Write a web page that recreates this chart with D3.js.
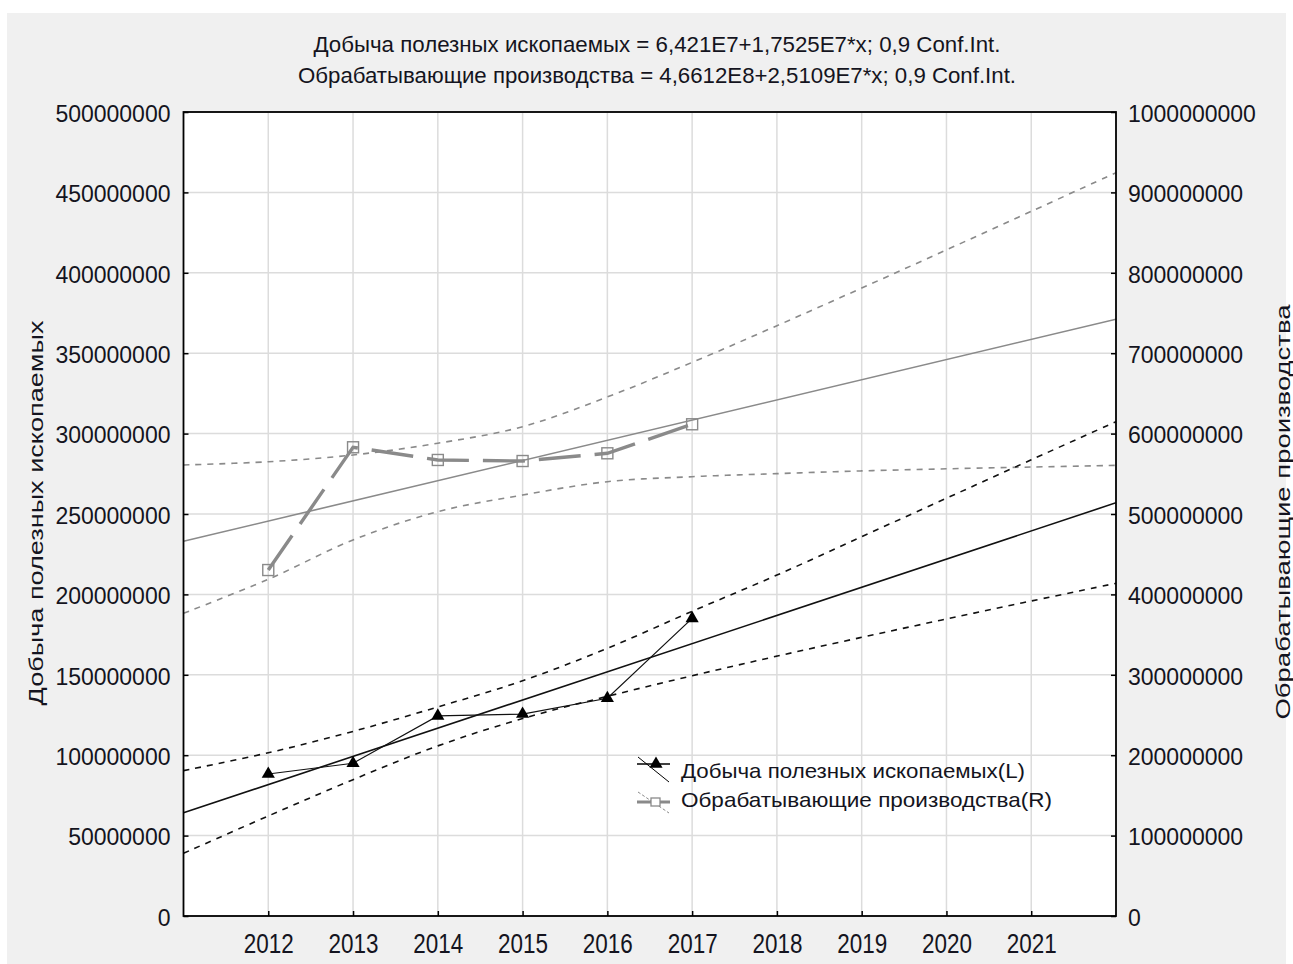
<!DOCTYPE html>
<html>
<head>
<meta charset="utf-8">
<script src="https://cdn.jsdelivr.net/npm/d3@7"></script>
<style>
  html, body { margin: 0; padding: 0; background: #ffffff; }
  svg { display: block; }
  text { font-family: "Liberation Sans", Arial, sans-serif; fill: #141420; }
</style>
</head>
<body>
<svg id="chart" width="1293" height="964"></svg>
<script>
// ---- data ----
const yearLabels = ["2012", "2013", "2014", "2015", "2016", "2017", "2018", "2019", "2020", "2021"];
const obsYears = [2012, 2013, 2014, 2015, 2016, 2017];
const mining = [88.3e6, 95.0e6, 124.4e6, 125.6e6, 135.4e6, 185.1e6];        // left axis
const manufacturing = [430.3e6, 583.0e6, 567.2e6, 565.9e6, 575.5e6, 611.6e6]; // right axis

// fitted lines y = a + b*x (x = 1 for 2012)
const miningFit = [6.421e7, 1.7525e7];
const manufFit = [4.6612e8, 2.5109e7];

// 0.9 confidence bands, sampled at x = 0..11
const bandX = [0, 1, 2, 3, 4, 5, 6, 7, 8, 9, 10, 11];
const miningUpper = [90.4e6, 101.5e6, 114.8e6, 130.0e6, 146.3e6, 166.5e6, 189.5e6, 212.0e6, 235.9e6, 259.8e6, 283.7e6, 307.4e6];
const miningLower = [39.0e6, 62.2e6, 84.8e6, 105.8e6, 122.8e6, 136.6e6, 149.4e6, 161.6e6, 173.3e6, 184.7e6, 195.9e6, 206.9e6];
const manufUpper = [561.0e6, 565.0e6, 573.4e6, 588.0e6, 608.6e6, 645.6e6, 688.6e6, 734.2e6, 781.0e6, 828.5e6, 876.4e6, 924.5e6];
const manufLower = [376.5e6, 418.8e6, 467.7e6, 502.9e6, 523.6e6, 540.2e6, 546.4e6, 550.2e6, 553.6e6, 556.2e6, 558.4e6, 560.5e6];

const leftTicks = d3.range(0, 500000001, 50000000);
const rightTicks = d3.range(0, 1000000001, 100000000);

const titleLines = [
  "Добыча полезных ископаемых = 6,421E7+1,7525E7*x; 0,9 Conf.Int.",
  "Обрабатывающие производства = 4,6612E8+2,5109E7*x; 0,9 Conf.Int."
];
const leftTitle = "Добыча полезных ископаемых";
const rightTitle = "Обрабатывающие производства";
const legendLabels = ["Добыча полезных ископаемых(L)", "Обрабатывающие производства(R)"];

// ---- layout ----
const svg = d3.select("#chart");
const plot = { left: 183.5, right: 1116, top: 112, bottom: 916 };

const x = d3.scaleLinear().domain([0, 11]).range([plot.left, plot.right]);
const yL = d3.scaleLinear().domain([0, 500000000]).range([plot.bottom, plot.top]);
const yR = d3.scaleLinear().domain([0, 1000000000]).range([plot.bottom, plot.top]);
const yearToX = yr => yr - 2011;

// panel and plot background
svg.append("rect").attr("x", 7).attr("y", 13).attr("width", 1279).attr("height", 951).attr("fill", "#f0f0f0");
svg.append("rect")
  .attr("x", plot.left).attr("y", plot.top)
  .attr("width", plot.right - plot.left).attr("height", plot.bottom - plot.top)
  .attr("fill", "#ffffff");

// grid
const grid = svg.append("g").attr("stroke", "#dcdcdc").attr("stroke-width", 1.5);
grid.selectAll("line.h").data(leftTicks).join("line")
  .attr("x1", plot.left).attr("x2", plot.right)
  .attr("y1", d => yL(d)).attr("y2", d => yL(d));
grid.selectAll("line.v").data(yearLabels).join("line")
  .attr("x1", (d, i) => x(i + 1)).attr("x2", (d, i) => x(i + 1))
  .attr("y1", plot.top).attr("y2", plot.bottom);

const band = d3.line().x(d => x(d[0])).y(d => d[1]).curve(d3.curveCatmullRom.alpha(0.5));
svg.append("clipPath").attr("id", "plotclip").append("rect")
  .attr("x", plot.left).attr("y", plot.top)
  .attr("width", plot.right - plot.left).attr("height", plot.bottom - plot.top);
const g = svg.append("g").attr("clip-path", "url(#plotclip)");

// manufacturing (right axis), grey
[manufUpper, manufLower].forEach(arr => {
  g.append("path")
    .attr("d", band(bandX.map((bx, i) => [bx, yR(arr[i])])))
    .attr("fill", "none").attr("stroke", "#8a8a8a").attr("stroke-width", 1.6)
    .attr("stroke-dasharray", "6,6");
});
g.append("line")
  .attr("x1", x(0)).attr("y1", yR(manufFit[0]))
  .attr("x2", x(11)).attr("y2", yR(manufFit[0] + manufFit[1] * 11))
  .attr("stroke", "#8a8a8a").attr("stroke-width", 1.6);

// mining (left axis), black
[miningUpper, miningLower].forEach(arr => {
  g.append("path")
    .attr("d", band(bandX.map((bx, i) => [bx, yL(arr[i])])))
    .attr("fill", "none").attr("stroke", "#111").attr("stroke-width", 1.6)
    .attr("stroke-dasharray", "6,6");
});
g.append("line")
  .attr("x1", x(0)).attr("y1", yL(miningFit[0]))
  .attr("x2", x(11)).attr("y2", yL(miningFit[0] + miningFit[1] * 11))
  .attr("stroke", "#111").attr("stroke-width", 1.6);

// observed series
const manufPts = obsYears.map((yr, i) => [x(yearToX(yr)), yR(manufacturing[i])]);
g.append("path").attr("d", d3.line()(manufPts))
  .attr("fill", "none").attr("stroke", "#8a8a8a").attr("stroke-width", 3.4)
  .attr("stroke-dasharray", "42,14");
g.selectAll("rect.sq").data(manufPts).join("rect")
  .attr("x", d => d[0] - 5.5).attr("y", d => d[1] - 5.5)
  .attr("width", 11).attr("height", 11)
  .attr("fill", "none").attr("stroke", "#8a8a8a").attr("stroke-width", 1.4);

const miningPts = obsYears.map((yr, i) => [x(yearToX(yr)), yL(mining[i])]);
g.append("path").attr("d", d3.line()(miningPts))
  .attr("fill", "none").attr("stroke", "#111").attr("stroke-width", 1.2);
const tri = d3.symbol().type(d3.symbolTriangle).size(75);
g.selectAll("path.tri").data(miningPts).join("path")
  .attr("transform", d => `translate(${d[0]},${d[1]})`)
  .attr("d", tri).attr("fill", "#000");

// axes
function styleAxis(sel) {
  sel.select(".domain").remove();
  sel.selectAll(".tick line").attr("stroke", "#000").attr("stroke-width", 1.5);
  sel.selectAll(".tick text").style("font-family", '"Liberation Sans", Arial, sans-serif').attr("fill", "#141420");
}
svg.append("g").attr("transform", `translate(${plot.left},0)`)
  .call(d3.axisLeft(yL).tickValues(leftTicks).tickFormat(d3.format("d")).tickSizeInner(-5).tickSizeOuter(0).tickPadding(13))
  .call(styleAxis)
  .selectAll(".tick text").style("font-size", "23px").attr("dy", "0.4em");

svg.append("g").attr("transform", `translate(${plot.right},0)`)
  .call(d3.axisRight(yR).tickValues(rightTicks).tickFormat(d3.format("d")).tickSizeInner(-5).tickSizeOuter(0).tickPadding(12))
  .call(styleAxis)
  .selectAll(".tick text").style("font-size", "23px").attr("dy", "0.4em");

const bottomAxis = svg.append("g").attr("transform", `translate(0,${plot.bottom})`)
  .call(d3.axisBottom(x).tickValues(d3.range(1, 11)).tickFormat((d, i) => yearLabels[i]).tickSizeInner(-5).tickSizeOuter(0).tickPadding(18))
  .call(styleAxis);
bottomAxis.selectAll(".tick text").style("font-size", "27px")
  .attr("textLength", 50).attr("lengthAdjust", "spacingAndGlyphs");

// frame
svg.append("rect")
  .attr("x", plot.left).attr("y", plot.top)
  .attr("width", plot.right - plot.left).attr("height", plot.bottom - plot.top)
  .attr("fill", "none").attr("stroke", "#000").attr("stroke-width", 1.8);

// title
const titleSpecs = [{ y: 52, len: 687 }, { y: 83, len: 718 }];
titleLines.forEach((t, i) => {
  svg.append("text").attr("x", 657).attr("y", titleSpecs[i].y)
    .attr("text-anchor", "middle").style("font-size", "22.5px")
    .attr("textLength", titleSpecs[i].len).attr("lengthAdjust", "spacingAndGlyphs")
    .text(t);
});

// axis titles
svg.append("text").attr("transform", "translate(43,513) rotate(-90)")
  .attr("text-anchor", "middle").style("font-size", "20px")
  .attr("textLength", 385).attr("lengthAdjust", "spacingAndGlyphs")
  .text(leftTitle);
svg.append("text").attr("transform", "translate(1290,512) rotate(-90)")
  .attr("text-anchor", "middle").style("font-size", "20px")
  .attr("textLength", 415).attr("lengthAdjust", "spacingAndGlyphs")
  .text(rightTitle);

// legend
const lg = svg.append("g");
lg.append("line").attr("x1", 637).attr("y1", 764).attr("x2", 670).attr("y2", 764)
  .attr("stroke", "#000").attr("stroke-width", 1.5);
lg.append("line").attr("x1", 638).attr("y1", 757).attr("x2", 669).attr("y2", 782)
  .attr("stroke", "#000").attr("stroke-width", 1);
lg.append("path").attr("transform", "translate(656,764)").attr("d", tri).attr("fill", "#000");
lg.append("line").attr("x1", 637).attr("y1", 802).attr("x2", 670).attr("y2", 802)
  .attr("stroke", "#8a8a8a").attr("stroke-width", 3);
lg.append("line").attr("x1", 638).attr("y1", 792).attr("x2", 669).attr("y2", 813)
  .attr("stroke", "#8a8a8a").attr("stroke-width", 1).attr("stroke-dasharray", "3,2");
lg.append("rect").attr("x", 651).attr("y", 798).attr("width", 9).attr("height", 8)
  .attr("fill", "#fff").attr("stroke", "#8a8a8a").attr("stroke-width", 1.3);
const legendSpecs = [{ y: 778, len: 344 }, { y: 807, len: 371 }];
legendLabels.forEach((t, i) => {
  lg.append("text").attr("x", 681).attr("y", legendSpecs[i].y)
    .style("font-size", "21px")
    .attr("textLength", legendSpecs[i].len).attr("lengthAdjust", "spacingAndGlyphs")
    .text(t);
});
</script>
</body>
</html>
